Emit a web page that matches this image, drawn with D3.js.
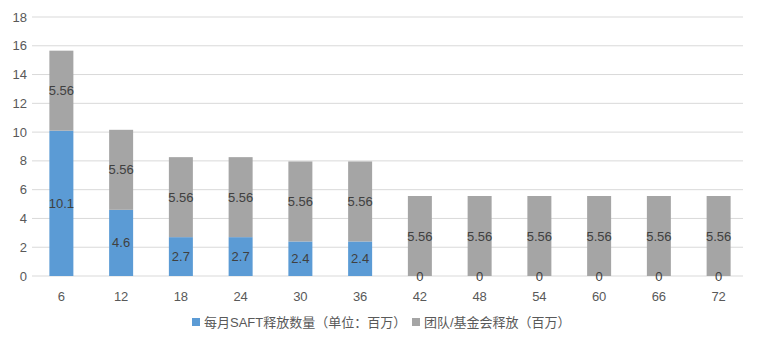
<!DOCTYPE html>
<html>
<head>
<meta charset="utf-8">
<script src="https://cdn.jsdelivr.net/npm/d3@7/dist/d3.min.js"></script>
<style>
  body { margin: 0; background: #fff; }
  svg { display: block; font-family: "Liberation Sans", Arial, "Noto Sans CJK SC", sans-serif; }
</style>
</head>
<body>
<main></main>
<script>
// data
const months = ["6", "12", "18", "24", "30", "36", "42", "48", "54", "60", "66", "72"];
const saftRelease = [10.1, 4.6, 2.7, 2.7, 2.4, 2.4, 0, 0, 0, 0, 0, 0];
const teamRelease = [5.56, 5.56, 5.56, 5.56, 5.56, 5.56, 5.56, 5.56, 5.56, 5.56, 5.56, 5.56];
const yTicks = [0, 2, 4, 6, 8, 10, 12, 14, 16, 18];
const seriesNames = ["每月SAFT释放数量（单位：百万）", "团队/基金会释放（百万）"];
const colors = ["#5b9bd5", "#a5a5a5"];

const width = 757, height = 340;
const dims = { left: 32, right: 743, top: 17, bottom: 276 };

const svg = d3.select("main").append("svg")
  .attr("width", width)
  .attr("height", height);

// one slot per month, bar drawn in the middle of it
const x = d3.scaleBand()
  .domain(months)
  .range([31.5, 748.5]);
const cx = d => x(d) + x.bandwidth() / 2;
const barW = 24;

const y = d3.scaleLinear().domain([0, 18]).range([dims.bottom, dims.top]);

// gridlines
svg.append("g").selectAll("line")
  .data(yTicks)
  .join("line")
  .attr("x1", dims.left).attr("x2", dims.right)
  .attr("y1", d => y(d)).attr("y2", d => y(d))
  .attr("stroke", "#d9d9d9").attr("stroke-width", 1);

// y labels
svg.append("g").selectAll("text")
  .data(yTicks)
  .join("text")
  .attr("x", 27).attr("y", d => y(d))
  .attr("dy", "0.35em")
  .attr("text-anchor", "end")
  .attr("font-size", 13)
  .attr("fill", "#595959")
  .text(d => d);

// x labels
svg.append("g").selectAll("text")
  .data(months)
  .join("text")
  .attr("x", d => cx(d)).attr("y", 296)
  .attr("dy", "0.35em")
  .attr("text-anchor", "middle")
  .attr("font-size", 13)
  .attr("fill", "#595959")
  .text(d => d);

// stacked bars
const rows = months.map((m, i) => ({ month: m, saft: saftRelease[i], team: teamRelease[i] }));
const stack = d3.stack().keys(["saft", "team"])(rows);

svg.append("g").selectAll("g")
  .data(stack)
  .join("g")
  .attr("fill", (d, i) => colors[i])
  .selectAll("rect")
  .data(d => d)
  .join("rect")
  .attr("x", d => cx(d.data.month) - barW / 2)
  .attr("width", barW)
  .attr("y", d => y(d[1]))
  .attr("height", d => y(d[0]) - y(d[1]));

// value labels drawn after all bars so the zeros stay visible
const labels = stack.flatMap(s => s.map(v => ({ v, key: s.key })));
svg.append("g").selectAll("text")
  .data(labels)
  .join("text")
  .attr("x", d => cx(d.v.data.month))
  .attr("y", d => y((d.v[0] + d.v[1]) / 2))
  .attr("dy", "0.35em")
  .attr("text-anchor", "middle")
  .attr("font-size", 13)
  .attr("fill", "#404040")
  .text(d => d.v.data[d.key]);

// legend
const legend = svg.append("g");
const legendX = [192, 412];
seriesNames.forEach((name, i) => {
  legend.append("rect")
    .attr("x", legendX[i]).attr("y", 318)
    .attr("width", 8).attr("height", 8)
    .attr("fill", colors[i]);
  legend.append("text")
    .attr("x", legendX[i] + 12).attr("y", 322)
    .attr("dy", "0.35em")
    .attr("font-size", 13)
    .attr("fill", "#595959")
    .text(name);
});
</script>
</body>
</html>
